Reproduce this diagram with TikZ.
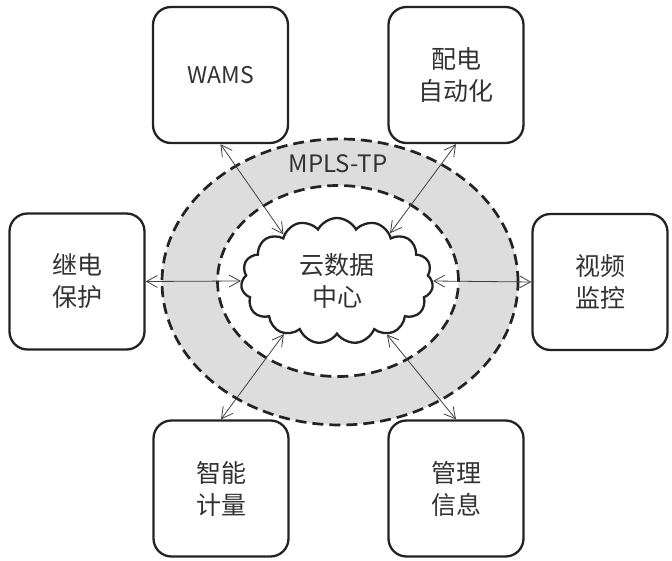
\documentclass[tikz,border=0pt]{standalone}
\usepackage{fontspec}
\setmainfont{Noto Sans CJK SC}
\usetikzlibrary{shapes.symbols, shapes.geometric, arrows.meta}
\definecolor{ringgray}{RGB}{221,221,221}
\definecolor{ink}{RGB}{35,35,35}
\definecolor{txt}{RGB}{50,50,50}
\begin{document}
\begin{tikzpicture}[x=1pt,y=-1pt,
  box/.style={draw=ink, line width=2.3pt, rounded corners=18pt, minimum width=135pt,
    minimum height=136pt, align=center, inner sep=0pt, text=txt,
    font=\fontsize{25}{32}\selectfont},
  ring/.style={ellipse, draw=ink, line width=2.7pt, dash pattern=on 11pt off 6pt, inner sep=0pt},
  conn/.style={{Straight Barb[length=11pt,width=12pt]}-{Straight Barb[length=11pt,width=12pt]},
    line width=0.8pt, draw=black!75}
]
\useasboundingbox (0,0) rectangle (672,561);
% rings
\node[ring, fill=ringgray, minimum width=356pt, minimum height=286pt] (outer) at (340,282) {};
\node[ring, fill=white, minimum width=241pt, minimum height=191pt] (inner) at (338,281) {};
\node[text=txt, font=\fontsize{24}{28}\selectfont] (mpls) at (338,164) {MPLS-TP};
% cloud
\node[cloud, draw=ink, line width=2.3pt, fill=white, cloud puffs=15, cloud puff arc=125,
  aspect=1.5, minimum width=192pt, minimum height=126pt, align=center, inner sep=0pt,
  text=txt, font=\fontsize{25}{32}\selectfont] (cloud) at (337,281) {云数据\\中心};
% boxes
\node[box, font=\fontsize{23}{28}\selectfont] (wams) at (220.5,75) {WAMS};
\node[box] (pd) at (456,75) {配电\\自动化};
\node[box] (jd) at (77,281.5) {继电\\保护};
\node[box] (sp) at (600,282) {视频\\监控};
\node[box] (zn) at (221,488.5) {智能\\计量};
\node[box] (gl) at (456,488.5) {管理\\信息};
% connectors
\draw[conn] (wams.south) -- (cloud.139);
\draw[conn] (pd.south) -- (cloud.42);
\draw[conn] (jd.east) -- (cloud.180);
\draw[conn] (sp.west) -- (cloud.0);
\draw[conn] (zn.north) -- (cloud.225);
\draw[conn] (gl.north) -- (cloud.313);
\end{tikzpicture}
\end{document}
